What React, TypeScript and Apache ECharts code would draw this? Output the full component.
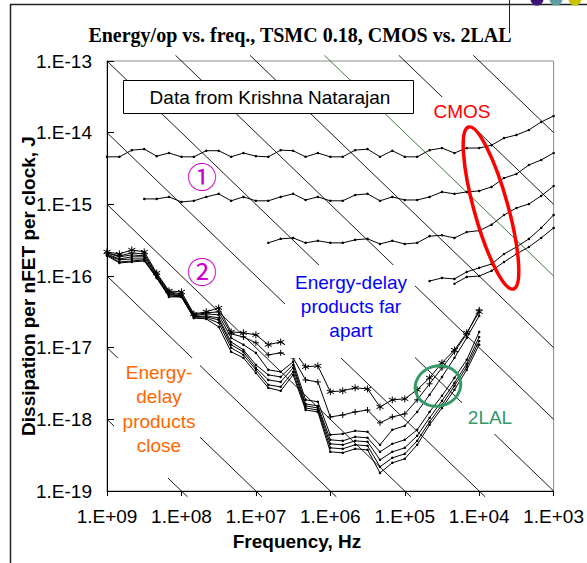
import React, { useEffect, useRef } from "react";
import * as echarts from "echarts";

// Sample frequencies (Hz), 1/6-decade steps
const FREQ_HZ = [
  1e9, 6.81e8, 4.64e8, 3.16e8, 2.15e8, 1.47e8,
  1e8, 6.81e7, 4.64e7, 3.16e7, 2.15e7, 1.47e7,
  1e7, 6.81e6, 4.64e6, 3.16e6, 2.15e6, 1.47e6,
  1e6, 6.81e5, 4.64e5, 3.16e5, 2.15e5, 1.47e5,
  1e5, 6.81e4, 4.64e4, 3.16e4, 2.15e4, 1.47e4,
  1e4, 6.81e3, 4.64e3, 3.16e3, 2.15e3, 1.47e3, 1e3,
];

// CMOS curves (J per clock); each starts at the given FREQ_HZ index
const CMOS_1_START = 0;
const CMOS_1 = [
  4.6e-15, 4.6e-15, 5.7e-15, 5.9e-15, 4.7e-15, 5.2e-15, 4.6e-15, 4.6e-15, 5.6e-15, 5.6e-15,
  4.6e-15, 5.2e-15, 4.7e-15, 4.6e-15, 5.7e-15, 5.6e-15, 4.6e-15, 5.2e-15, 4.6e-15, 4.6e-15,
  5.7e-15, 5.9e-15, 4.6e-15, 5.6e-15, 4.6e-15, 4.6e-15, 5.7e-15, 6.1e-15, 5.2e-15, 6.1e-15,
  6.1e-15, 6.7e-15, 8.4e-15, 9.3e-15, 1.09e-14, 1.41e-14, 1.71e-14,
];
const CMOS_2_START = 3;
const CMOS_2 = [
  1.19e-15, 1.19e-15, 1.27e-15, 1.08e-15, 1.12e-15, 1.27e-15, 1.4e-15, 1.12e-15, 1.27e-15, 1.12e-15,
  1.12e-15, 1.27e-15, 1.4e-15, 1.15e-15, 1.27e-15, 1.12e-15, 1.12e-15, 1.35e-15, 1.4e-15, 1.12e-15,
  1.27e-15, 1.15e-15, 1.15e-15, 1.27e-15, 1.49e-15, 1.4e-15, 1.49e-15, 1.54e-15, 1.75e-15, 2.33e-15,
  2.65e-15, 3.54e-15, 4.16e-15, 5.21e-15,
];
const CMOS_3_START = 13;
const CMOS_3 = [
  2.9e-16, 3.3e-16, 3.4e-16, 2.9e-16, 3.1e-16, 2.9e-16, 2.9e-16, 3.2e-16, 3.3e-16, 2.8e-16,
  3.1e-16, 2.8e-16, 2.9e-16, 3.6e-16, 3.7e-16, 3.4e-16, 4.1e-16, 4.3e-16, 5.2e-16, 7.1e-16,
  8.9e-16, 1.01e-15, 1.31e-15, 1.8e-15,
];
const CMOS_4_START = 26;
const CMOS_4 = [8.5e-17, 9.4e-17, 9.1e-17, 1.14e-16, 1.3e-16, 1.47e-16, 2.03e-16, 2.54e-16, 3.29e-16, 4.69e-16, 7.11e-16];
const CMOS_5_START = 28;
const CMOS_5 = [7.8e-17, 9.7e-17, 1.0e-16, 1.18e-16, 1.57e-16, 2.03e-16, 2.54e-16, 3.4e-16, 4.69e-16];

// 2LAL curves, from 1 GHz to 10 kHz
const LAL_A = [
  2.17e-16, 2.03e-16, 2.31e-16, 2.17e-16, 1.1e-16, 6.2e-17, 6.0e-17, 2.96e-17, 3.16e-17, 3.59e-17,
  1.66e-17, 1.61e-17, 1.51e-17, 1.1e-17, 1.2e-17, 9.3e-18, 5.4e-18, 5.57e-18, 2.42e-18, 2.5e-18,
  2.75e-18, 2.66e-18, 1.49e-18, 1.87e-18, 1.93e-18, 2.58e-18, 3.79e-18, 6.14e-18, 9.3e-18, 1.61e-17, 3.16e-17,
];
const LAL_B = [
  2.1e-16, 1.91e-16, 2.1e-16, 2.03e-16, 1.07e-16, 6.0e-17, 5.63e-17, 2.87e-17, 3.06e-17, 3.16e-17,
  1.56e-17, 1.41e-17, 1.17e-17, 7.94e-18, 8.46e-18, 7.21e-18, 3.55e-18, 3.33e-18, 1.08e-18, 1.15e-18,
  1.27e-18, 1.35e-18, 8.94e-19, 1.08e-18, 1.19e-18, 1.87e-18, 3.13e-18, 5.23e-18, 8.74e-18, 1.56e-17, 3.37e-17,
];
const LAL_C = [
  2.1e-16, 1.85e-16, 1.97e-16, 1.91e-16, 1.04e-16, 5.81e-17, 5.45e-17, 2.78e-17, 2.96e-17, 2.87e-17,
  1.37e-17, 1.1e-17, 8.46e-18, 4.9e-18, 4.6e-18, 6.34e-18, 1.87e-18, 1.76e-18, 6.08e-19, 6.28e-19,
  6.91e-19, 6.69e-19, 4.41e-19, 7.14e-19, 8.12e-19, 1.27e-18, 2.2e-18, 3.91e-18, 7.21e-18, 1.37e-17, 2.78e-17,
];
const LAL_D = [
  2.03e-16, 1.73e-16, 1.85e-16, 1.85e-16, 1.0e-16, 5.63e-17, 5.28e-17, 2.69e-17, 2.78e-17, 2.6e-17,
  1.2e-17, 9.32e-18, 5.76e-18, 4.17e-18, 3.91e-18, 5.76e-18, 1.64e-18, 1.54e-18, 5.18e-19, 5.01e-19,
  5.7e-19, 5.52e-19, 3.52e-19, 4.55e-19, 5.18e-19, 7.14e-19, 1.27e-18, 2.13e-18, 3.79e-18, 6.76e-18, 1.66e-17,
];
const LAL_E = [
  1.97e-16, 1.68e-16, 1.73e-16, 1.73e-16, 9.71e-17, 5.45e-17, 5.28e-17, 2.69e-17, 2.69e-17, 2.44e-17,
  1.1e-17, 8.74e-18, 5.23e-18, 3.55e-18, 3.33e-18, 5.23e-18, 1.54e-18, 1.44e-18, 4.55e-19, 4.41e-19,
  5.01e-19, 4.86e-19, 2.72e-19, 3.52e-19, 4.0e-19, 5.89e-19, 1.05e-18, 1.81e-18, 3.23e-18, 5.94e-18, 1.41e-17,
];
const LAL_F = [
  1.97e-16, 1.57e-16, 1.62e-16, 1.68e-16, 9.41e-17, 5.28e-17, 5.11e-17, 2.6e-17, 2.6e-17, 2.22e-17,
  9.94e-18, 7.94e-18, 4.9e-18, 3.03e-18, 2.84e-18, 4.6e-18, 1.44e-18, 1.35e-18, 4.0e-19, 3.88e-19,
  4.41e-19, 4.27e-19, 2.18e-19, 2.9e-19, 3.3e-19, 5.01e-19, 9.23e-19, 1.59e-18, 2.93e-18, 5.4e-18, 1.24e-17,
];
const LAL_G = [
  1.91e-16, 1.52e-16, 1.57e-16, 1.62e-16, 9.41e-17, 5.11e-17, 5.11e-17, 2.6e-17, 2.52e-17, 1.95e-17,
  8.74e-18, 7.21e-18, 4.45e-18, 2.75e-18, 2.5e-18, 4.17e-18, 1.35e-18, 1.27e-18, 3.52e-19, 3.41e-19,
  3.88e-19, 3.75e-19, 1.79e-19, 2.47e-19, 2.81e-19, 4.41e-19, 8.38e-19, 1.44e-18, 2.58e-18, 4.9e-18, 1.1e-17,
];

// Constant energy-delay product guide lines (J*s); the 1e-19 one is green
const ENERGY_DELAY = [1e-27, 1e-26, 1e-25, 1e-24, 1e-23, 1e-22, 1e-21, 1e-20, 1e-19, 1e-18, 1e-17];
const GREEN_EDP = 1e-19;

const X_MIN = 1e3, X_MAX = 1e9, Y_MIN = 1e-19, Y_MAX = 1e-13;
// guide lines overshoot the top/bottom plot edges slightly (as in the source)
const GUIDE_TOP = 1.2e-13, GUIDE_BOTTOM = 8.3e-20;

const fmtExp = (v: number) => {
  const e = Math.round(Math.log10(v));
  const a = Math.abs(e);
  return "1.E" + (e < 0 ? "-" : "+") + (a < 10 ? "0" + a : String(a));
};

const pairs = (start: number, vals: number[]) => vals.map((e, i) => [FREQ_HZ[start + i], e]);

const SANS = "'Liberation Sans', Arial, sans-serif";
const SERIF = "'Liberation Serif', 'Times New Roman', serif";
const ASTER = "path://M5,0L5,10M0.7,2.5L9.3,7.5M0.7,7.5L9.3,2.5";
const PLUS = "path://M5,0L5,10M0,5L10,5";

export default function App() {
  const ref = useRef<HTMLDivElement>(null);
  useEffect(() => {
    if (!ref.current) return;
    const chart = echarts.init(ref.current, null, { renderer: "svg" });

    const diag = ENERGY_DELAY.map((p) => {
      const fStart = Math.min(X_MAX, GUIDE_TOP / p);
      const fEnd = Math.max(X_MIN, GUIDE_BOTTOM / p);
      return {
        type: "line",
        data: fStart > fEnd ? [[fStart, p * fStart], [fEnd, p * fEnd]] : [],
        symbol: "none",
        silent: true,
        clip: false,
        z: 1,
        lineStyle: { color: p === GREEN_EDP ? "#2b6a2b" : "#000", width: 0.9 },
      };
    });

    const curve = (data: number[][], symbol: string, size: number) => ({
      type: "line",
      data,
      symbol,
      symbolSize: size,
      showSymbol: true,
      z: 3,
      lineStyle: { color: "#000", width: 1 },
      itemStyle: { color: "#000", borderColor: "#000", borderWidth: symbol.startsWith("path") ? 1 : 0 },
    });

    const series: any[] = [
      ...diag,
      curve(pairs(CMOS_1_START, CMOS_1), "circle", 2.5),
      curve(pairs(CMOS_2_START, CMOS_2), "circle", 2.5),
      curve(pairs(CMOS_3_START, CMOS_3), "circle", 2.5),
      curve(pairs(CMOS_4_START, CMOS_4), "circle", 2.5),
      curve(pairs(CMOS_5_START, CMOS_5), "circle", 2.5),
      curve(pairs(0, LAL_G), "circle", 2.5),
      curve(pairs(0, LAL_F), "circle", 2.5),
      curve(pairs(0, LAL_E), "circle", 2.5),
      curve(pairs(0, LAL_D), "circle", 2.5),
      curve(pairs(0, LAL_C), "circle", 2.5),
      curve(pairs(0, LAL_B), PLUS, 6),
      curve(pairs(0, LAL_A), ASTER, 7),
    ];

    const txt = (x: number, y: number, text: string, fill: string, size: number, extra: any = {}) => ({
      type: "text",
      x,
      y,
      z: 20,
      style: {
        text,
        fill,
        fontSize: size,
        fontFamily: SANS,
        align: "center",
        verticalAlign: "middle",
        ...extra,
      },
    });
    const whiteRect = (x: number, y: number, w: number, h: number) => ({
      type: "rect",
      z: 15,
      shape: { x, y, width: w, height: h },
      style: { fill: "#fff" },
    });

    const graphic: any[] = [
      { type: "polyline", z: 20, shape: { points: [[10.5, 563], [10.5, 4.5], [587, 4.5]] }, style: { stroke: "#222", lineWidth: 1.5, fill: "none" } },
      { type: "line", z: 20, shape: { x1: 509.5, y1: 0, x2: 509.5, y2: 33 }, style: { stroke: "#222", lineWidth: 1 } },
      { type: "circle", z: 21, shape: { cx: 537, cy: -1, r: 6.5 }, style: { fill: "#3a1577" } },
      { type: "circle", z: 21, shape: { cx: 556, cy: -1, r: 6.5 }, style: { fill: "#5d9ea0" } },
      { type: "circle", z: 21, shape: { cx: 575, cy: -1, r: 6.5 }, style: { fill: "#cbc300" } },
      txt(300, 35, "Energy/op vs. freq., TSMC 0.18, CMOS vs. 2LAL", "#000", 20, { fontFamily: SERIF, fontWeight: "bold" }),
      { type: "text", x: 28, y: 286, rotation: Math.PI / 2, z: 20, style: { text: "Dissipation per nFET per clock, J", fill: "#000", fontSize: 19, fontWeight: "bold", fontFamily: SANS, align: "center", verticalAlign: "middle" } },
      txt(297, 541, "Frequency, Hz", "#000", 19, { fontWeight: "bold" }),
      { type: "rect", z: 15, shape: { x: 123.5, y: 80.5, width: 290, height: 33 }, style: { fill: "#fff", stroke: "#000", lineWidth: 1 } },
      txt(270, 97, "Data from Krishna Natarajan", "#000", 19),
      whiteRect(430, 97, 67, 31),
      txt(462, 111, "CMOS", "#ff0000", 19),
      {
        type: "group", x: 491, y: 208, rotation: 0.27, z: 22,
        children: [{ type: "ellipse", z: 22, shape: { cx: 0, cy: 0, rx: 17, ry: 84 }, style: { fill: "none", stroke: "#ff0000", lineWidth: 3.5 } }],
      },
      txt(202, 175, "①", "#cc00cc", 30, { fontFamily: "'Noto Sans CJK JP', 'DejaVu Sans', sans-serif" }),
      txt(202, 270, "②", "#cc00cc", 30, { fontFamily: "'Noto Sans CJK JP', 'DejaVu Sans', sans-serif" }),
      whiteRect(285, 265, 130, 93),
      txt(351, 306, "Energy-delay\nproducts far\napart", "#0000ff", 19, { lineHeight: 24 }),
      whiteRect(114, 358, 86, 120),
      txt(159, 409, "Energy-\ndelay\nproducts\nclose", "#ff6600", 19, { lineHeight: 24.5 }),
      whiteRect(462, 400, 56, 34),
      txt(490, 417, "2LAL", "#339966", 19),
      {
        type: "group", x: 438, y: 386, rotation: 0.3, z: 22,
        children: [{ type: "ellipse", z: 22, shape: { cx: 0, cy: 0, rx: 23, ry: 20 }, style: { fill: "none", stroke: "#339966", lineWidth: 3 } }],
      },
    ];

    chart.setOption({
      animation: false,
      backgroundColor: "#fff",
      grid: { left: 107, top: 61, width: 448, height: 430, show: true, borderColor: "#8c8c8c", borderWidth: 1, backgroundColor: "transparent" },
      xAxis: {
        type: "log", logBase: 10, min: X_MIN, max: X_MAX, inverse: true, splitNumber: 6,
        axisLine: { show: true, lineStyle: { color: "#000", width: 1 } },
        axisTick: { show: true, inside: false, length: 5, lineStyle: { color: "#000" } },
        minorTick: { show: false },
        splitLine: { show: false },
        axisLabel: { formatter: fmtExp, fontSize: 19, color: "#000", fontFamily: SANS, margin: 16 },
      },
      yAxis: {
        type: "log", logBase: 10, min: Y_MIN, max: Y_MAX, splitNumber: 6,
        axisLine: { show: true, lineStyle: { color: "#000", width: 1 } },
        axisTick: { show: true, inside: true, length: 7, lineStyle: { color: "#000" } },
        splitLine: { show: false },
        axisLabel: { formatter: fmtExp, fontSize: 19, color: "#000", fontFamily: SANS, margin: 15 },
      },
      series,
      graphic,
    });
    return () => chart.dispose();
  }, []);
  return <div ref={ref} style={{ position: "fixed", left: 0, top: 0, width: 587, height: 563, background: "#fff" }} />;
}
